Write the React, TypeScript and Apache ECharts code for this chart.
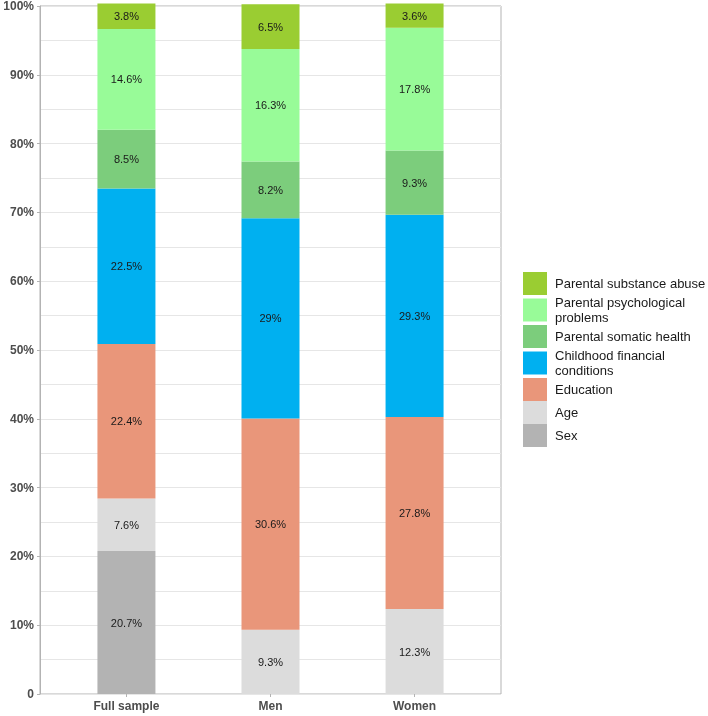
import React, { useEffect, useRef } from "react";
import * as echarts from "echarts";

const categories = ["Full sample", "Men", "Women"];
const seriesNames = [
  "Sex",
  "Age",
  "Education",
  "Childhood financial conditions",
  "Parental somatic health",
  "Parental psychological problems",
  "Parental substance abuse",
];
const legendLabels = [
  "Sex",
  "Age",
  "Education",
  "Childhood financial\nconditions",
  "Parental somatic health",
  "Parental psychological\nproblems",
  "Parental substance abuse",
];
const sexValues = [20.7, 0, 0];
const ageValues = [7.6, 9.3, 12.3];
const educationValues = [22.4, 30.6, 27.8];
const childhoodValues = [22.5, 29, 29.3];
const somaticValues = [8.5, 8.2, 9.3];
const psychValues = [14.6, 16.3, 17.8];
const substanceValues = [3.8, 6.5, 3.6];

const allValues = [
  sexValues,
  ageValues,
  educationValues,
  childhoodValues,
  somaticValues,
  psychValues,
  substanceValues,
];
const colors = [
  "#b3b3b3",
  "#dcdcdc",
  "#e9967a",
  "#00b0f0",
  "#7ccd7c",
  "#98fb98",
  "#9acd32",
];

export default function App() {
  const ref = useRef<HTMLDivElement>(null);
  useEffect(() => {
    const chart = echarts.init(ref.current!, null, { renderer: "svg" });
    const font = "Liberation Sans, Arial, sans-serif";
    const W = 708;
    const outerLeft = 40;
    const outerRight = 207;
    const plotW = W - outerLeft - outerRight;
    const step = plotW / 3.2;
    const pad = step * 0.1;
    const series = seriesNames.map((name, si) => ({
      name,
      type: "bar",
      stack: "total",
      barWidth: 58,
      xAxisIndex: 1,
      yAxisIndex: 1,
      itemStyle: { color: colors[si] },
      label: {
        show: true,
        position: "inside",
        color: "#1a1a1a",
        fontSize: 11,
        fontFamily: font,
        formatter: (p: any) => (p.value ? `${p.value}%` : ""),
      },
      data: allValues[si],
    }));
    chart.setOption({
      animation: false,
      grid: [
        {
          left: outerLeft,
          top: 3.5,
          right: outerRight,
          bottom: 22,
          show: true,
          borderColor: "#b3b3b3",
          borderWidth: 1,
          backgroundColor: "transparent",
        },
        {
          left: outerLeft + pad,
          top: 3.5,
          right: outerRight + pad,
          bottom: 22,
        },
      ],
      legend: {
        orient: "vertical",
        left: 523,
        top: 272,
        padding: 0,
        itemWidth: 24,
        itemHeight: 23,
        itemGap: 0,
        icon: "rect",
        data: seriesNames.slice().reverse(),
        formatter: (n: string) => legendLabels[seriesNames.indexOf(n)],
        textStyle: {
          fontFamily: font,
          fontSize: 13,
          color: "#1a1a1a",
          lineHeight: 15,
          padding: [0, 0, 0, 3],
        },
        selectedMode: false,
      },
      xAxis: [
        {
          type: "value",
          gridIndex: 0,
          min: 0,
          max: 1,
          show: false,
        },
        {
          type: "category",
          gridIndex: 1,
          data: categories,
          axisLine: { show: false },
          axisTick: {
            show: true,
            alignWithLabel: true,
            length: 3,
            lineStyle: { color: "#b3b3b3" },
          },
          axisLabel: {
            fontFamily: font,
            fontSize: 12,
            fontWeight: "bold",
            color: "#4d4d4d",
            margin: 6,
          },
          splitLine: { show: false },
        },
      ],
      yAxis: [
        {
          type: "value",
          gridIndex: 0,
          min: 0,
          max: 100,
          interval: 10,
          axisLine: { show: true, onZero: false, lineStyle: { color: "#b3b3b3" } },
          axisTick: { show: true, length: 3, lineStyle: { color: "#b3b3b3" } },
          axisLabel: {
            formatter: (v: number) => (v === 0 ? "0" : `${v}%`),
            fontFamily: font,
            fontSize: 12,
            fontWeight: "bold",
            color: "#4d4d4d",
            margin: 6,
          },
          splitLine: { show: true, lineStyle: { color: "#e6e6e6", width: 1 } },
          minorTick: { show: false, splitNumber: 2 },
          minorSplitLine: { show: true, lineStyle: { color: "#e6e6e6", width: 1 } },
        },
        {
          type: "value",
          gridIndex: 1,
          min: 0,
          max: 100,
          interval: 10,
          show: false,
          splitLine: { show: false },
        },
      ],
      series,
    });
    return () => chart.dispose();
  }, []);
  return (
    <div
      ref={ref}
      style={{ position: "fixed", left: 0, top: 0, width: 708, height: 716 }}
    />
  );
}
